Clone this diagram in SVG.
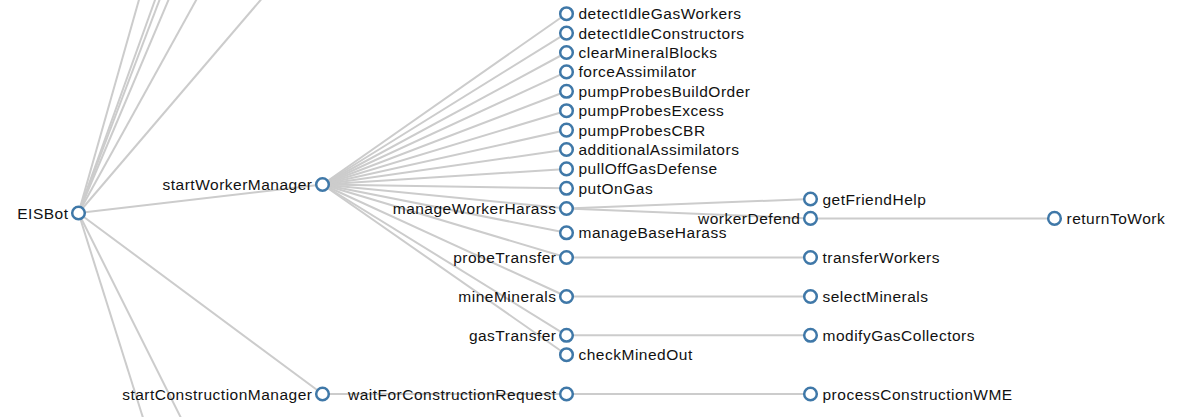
<svg xmlns="http://www.w3.org/2000/svg" width="1190" height="417" viewBox="0 0 1190 417">
<style>
.link{fill:none;stroke:#ccc;stroke-width:2}
.node circle{fill:#fff;stroke:#3f78a8;stroke-width:2.5}
.node text{font-family:"Liberation Sans",Arial,sans-serif;font-size:15.5px;letter-spacing:0.5px;fill:#111}
.l{text-anchor:end}
</style>
<rect width="1190" height="417" fill="#fff"/>
<g id="links">
<line class="link" x1="78.5" y1="213" x2="146" y2="-25"/>
<line class="link" x1="78.5" y1="213" x2="164" y2="-25"/>
<line class="link" x1="78.5" y1="213" x2="169" y2="-25"/>
<line class="link" x1="78.5" y1="213" x2="179" y2="-25"/>
<line class="link" x1="78.5" y1="213" x2="210" y2="-25"/>
<line class="link" x1="78.5" y1="213" x2="282" y2="-25"/>
<line class="link" x1="78.5" y1="213" x2="150" y2="440"/>
<line class="link" x1="78.5" y1="213" x2="192" y2="440"/>
<line class="link" x1="78.5" y1="213" x2="322.5" y2="184.5"/>
<line class="link" x1="78.5" y1="213" x2="322.5" y2="394"/>
<line class="link" x1="322.5" y1="184.5" x2="566.5" y2="13.7"/>
<line class="link" x1="322.5" y1="184.5" x2="566.5" y2="33.1"/>
<line class="link" x1="322.5" y1="184.5" x2="566.5" y2="52.5"/>
<line class="link" x1="322.5" y1="184.5" x2="566.5" y2="71.9"/>
<line class="link" x1="322.5" y1="184.5" x2="566.5" y2="91.3"/>
<line class="link" x1="322.5" y1="184.5" x2="566.5" y2="110.7"/>
<line class="link" x1="322.5" y1="184.5" x2="566.5" y2="130.1"/>
<line class="link" x1="322.5" y1="184.5" x2="566.5" y2="149.5"/>
<line class="link" x1="322.5" y1="184.5" x2="566.5" y2="168.9"/>
<line class="link" x1="322.5" y1="184.5" x2="566.5" y2="188.3"/>
<line class="link" x1="322.5" y1="184.5" x2="566.5" y2="208.5"/>
<line class="link" x1="322.5" y1="184.5" x2="566.5" y2="232.8"/>
<line class="link" x1="322.5" y1="184.5" x2="566.5" y2="257.5"/>
<line class="link" x1="322.5" y1="184.5" x2="566.5" y2="296.5"/>
<line class="link" x1="322.5" y1="184.5" x2="566.5" y2="335.3"/>
<line class="link" x1="322.5" y1="184.5" x2="566.5" y2="354.7"/>
<line class="link" x1="322.5" y1="394" x2="566.5" y2="394"/>
<line class="link" x1="566.5" y1="208.5" x2="810.5" y2="199"/>
<line class="link" x1="566.5" y1="208.5" x2="810.5" y2="218.4"/>
<line class="link" x1="810.5" y1="218.4" x2="1054.5" y2="218.4"/>
<line class="link" x1="566.5" y1="257.5" x2="810.5" y2="257.5"/>
<line class="link" x1="566.5" y1="296.5" x2="810.5" y2="296.5"/>
<line class="link" x1="566.5" y1="335.3" x2="810.5" y2="335.3"/>
<line class="link" x1="566.5" y1="394" x2="810.5" y2="394"/>
</g>
<g id="EISBot" class="node" transform="translate(78.5,213)"><circle r="6.3"/><text class="l" x="-10" y="5.5">EISBot</text></g>
<g id="startWorkerManager" class="node" transform="translate(322.5,184.5)"><circle r="6.3"/><text class="l" x="-10" y="5.5">startWorkerManager</text></g>
<g id="startConstructionManager" class="node" transform="translate(322.5,394)"><circle r="6.3"/><text class="l" x="-10" y="5.5">startConstructionManager</text></g>
<g id="detectIdleGasWorkers" class="node" transform="translate(566.5,13.7)"><circle r="6.3"/><text x="12" y="5.5">detectIdleGasWorkers</text></g>
<g id="detectIdleConstructors" class="node" transform="translate(566.5,33.1)"><circle r="6.3"/><text x="12" y="5.5">detectIdleConstructors</text></g>
<g id="clearMineralBlocks" class="node" transform="translate(566.5,52.5)"><circle r="6.3"/><text x="12" y="5.5">clearMineralBlocks</text></g>
<g id="forceAssimilator" class="node" transform="translate(566.5,71.9)"><circle r="6.3"/><text x="12" y="5.5">forceAssimilator</text></g>
<g id="pumpProbesBuildOrder" class="node" transform="translate(566.5,91.3)"><circle r="6.3"/><text x="12" y="5.5">pumpProbesBuildOrder</text></g>
<g id="pumpProbesExcess" class="node" transform="translate(566.5,110.7)"><circle r="6.3"/><text x="12" y="5.5">pumpProbesExcess</text></g>
<g id="pumpProbesCBR" class="node" transform="translate(566.5,130.1)"><circle r="6.3"/><text x="12" y="5.5">pumpProbesCBR</text></g>
<g id="additionalAssimilators" class="node" transform="translate(566.5,149.5)"><circle r="6.3"/><text x="12" y="5.5">additionalAssimilators</text></g>
<g id="pullOffGasDefense" class="node" transform="translate(566.5,168.9)"><circle r="6.3"/><text x="12" y="5.5">pullOffGasDefense</text></g>
<g id="putOnGas" class="node" transform="translate(566.5,188.3)"><circle r="6.3"/><text x="12" y="5.5">putOnGas</text></g>
<g id="manageWorkerHarass" class="node" transform="translate(566.5,208.5)"><circle r="6.3"/><text class="l" x="-10" y="5.5">manageWorkerHarass</text></g>
<g id="manageBaseHarass" class="node" transform="translate(566.5,232.8)"><circle r="6.3"/><text x="12" y="5.5">manageBaseHarass</text></g>
<g id="probeTransfer" class="node" transform="translate(566.5,257.5)"><circle r="6.3"/><text class="l" x="-10" y="5.5">probeTransfer</text></g>
<g id="mineMinerals" class="node" transform="translate(566.5,296.5)"><circle r="6.3"/><text class="l" x="-10" y="5.5">mineMinerals</text></g>
<g id="gasTransfer" class="node" transform="translate(566.5,335.3)"><circle r="6.3"/><text class="l" x="-10" y="5.5">gasTransfer</text></g>
<g id="checkMinedOut" class="node" transform="translate(566.5,354.7)"><circle r="6.3"/><text x="12" y="5.5">checkMinedOut</text></g>
<g id="waitForConstructionRequest" class="node" transform="translate(566.5,394)"><circle r="6.3"/><text class="l" x="-10" y="5.5">waitForConstructionRequest</text></g>
<g id="getFriendHelp" class="node" transform="translate(810.5,199)"><circle r="6.3"/><text x="12" y="5.5">getFriendHelp</text></g>
<g id="workerDefend" class="node" transform="translate(810.5,218.4)"><circle r="6.3"/><text class="l" x="-10" y="5.5">workerDefend</text></g>
<g id="transferWorkers" class="node" transform="translate(810.5,257.5)"><circle r="6.3"/><text x="12" y="5.5">transferWorkers</text></g>
<g id="selectMinerals" class="node" transform="translate(810.5,296.5)"><circle r="6.3"/><text x="12" y="5.5">selectMinerals</text></g>
<g id="modifyGasCollectors" class="node" transform="translate(810.5,335.3)"><circle r="6.3"/><text x="12" y="5.5">modifyGasCollectors</text></g>
<g id="processConstructionWME" class="node" transform="translate(810.5,394)"><circle r="6.3"/><text x="12" y="5.5">processConstructionWME</text></g>
<g id="returnToWork" class="node" transform="translate(1054.5,218.4)"><circle r="6.3"/><text x="12" y="5.5">returnToWork</text></g>
</svg>
